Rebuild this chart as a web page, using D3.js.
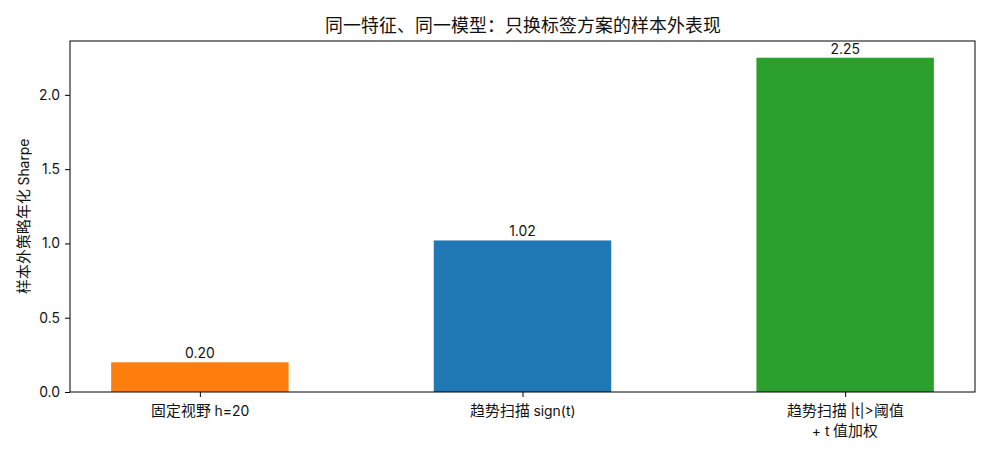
<!DOCTYPE html>
<html>
<head>
<meta charset="utf-8">
<script src="https://cdn.jsdelivr.net/npm/d3@7"></script>
<style>
  @font-face {
    font-family: "CJKWide";
    src: local("Noto Sans CJK SC Regular"), local("NotoSansCJKsc-Regular"), local("Noto Sans CJK SC");
    size-adjust: 107%;
  }
  body { margin: 0; background: #fff; }
  text { font-family: Inter, "CJKWide", "Noto Sans CJK SC", sans-serif; fill: #111; }
</style>
</head>
<body>
<div id="chart"></div>
<script>
// data
var categories = ["固定视野 h=20", "趋势扫描 sign(t)", "趋势扫描 |t|>阈值\n+ t 值加权"];
var sharpe = [0.20, 1.02, 2.25];
var barColors = ["#ff7f0e", "#1f77b4", "#2ca02c"];
var yTicks = [0.0, 0.5, 1.0, 1.5, 2.0];

var W = 990, H = 462;
var m = { left: 70, right: 15, top: 41, bottom: 70 };
var fs = "13.9px";

var svg = d3.select("#chart").append("svg")
    .attr("width", W)
    .attr("height", H);

var barW = 0.55;
var x = d3.scaleLinear()
    .domain([-barW / 2 - 0.1275, categories.length - 1 + barW / 2 + 0.1275])
    .range([m.left, W - m.right]);
var y = d3.scaleLinear()
    .domain([0, 2.25 * 1.05])
    .range([H - m.bottom, m.top]);

// bars
svg.selectAll("rect.bar")
    .data(sharpe)
    .enter()
    .append("rect")
    .attr("class", "bar")
    .attr("x", function (d, i) { return x(i - barW / 2); })
    .attr("y", function (d) { return y(d); })
    .attr("width", function (d, i) { return x(i + barW / 2) - x(i - barW / 2); })
    .attr("height", function (d) { return y(0) - y(d); })
    .attr("fill", function (d, i) { return barColors[i]; });

// value labels
svg.selectAll("text.val")
    .data(sharpe)
    .enter()
    .append("text")
    .attr("class", "val")
    .attr("x", function (d, i) { return x(i); })
    .attr("y", function (d) { return y(d) - 4; })
    .attr("text-anchor", "middle")
    .style("font-size", fs)
    .text(function (d) { return d.toFixed(2); });

// y axis
var yAxis = svg.append("g")
    .attr("transform", "translate(" + m.left + ",0)")
    .call(d3.axisLeft(y).tickValues(yTicks).tickFormat(d3.format(".1f")).tickSize(5).tickPadding(5));
yAxis.select(".domain").remove();
yAxis.selectAll("text").style("font-size", fs).style("font-family", null);
yAxis.selectAll("line").attr("stroke", "#000");
yAxis.attr("font-family", null).attr("font-size", null);

// x axis
var xAxis = svg.append("g")
    .attr("transform", "translate(0," + (H - m.bottom) + ")")
    .call(d3.axisBottom(x).tickValues(d3.range(categories.length)).tickFormat("").tickSize(5));
xAxis.select(".domain").remove();
xAxis.selectAll("line").attr("stroke", "#000");

svg.selectAll("text.cat")
    .data(categories)
    .enter()
    .append("text")
    .attr("class", "cat")
    .attr("text-anchor", "middle")
    .style("font-size", fs)
    .attr("transform", function (d, i) { return "translate(" + x(i) + "," + (H - m.bottom + 24) + ")"; })
    .each(function (d) {
        var t = d3.select(this);
        d.split("\n").forEach(function (line, k) {
            t.append("tspan").attr("x", 0).attr("dy", k === 0 ? 0 : 20).text(line);
        });
    });

// frame
svg.append("rect")
    .attr("x", m.left)
    .attr("y", m.top)
    .attr("width", W - m.right - m.left)
    .attr("height", H - m.bottom - m.top)
    .attr("fill", "none")
    .attr("stroke", "#000")
    .attr("stroke-width", 1);

// title
svg.append("text")
    .attr("x", (m.left + W - m.right) / 2)
    .attr("y", 32)
    .attr("text-anchor", "middle")
    .style("font-size", "16.7px")
    .text("同一特征、同一模型：只换标签方案的样本外表现");

// y label
svg.append("text")
    .attr("transform", "translate(29," + ((m.top + H - m.bottom) / 2) + ") rotate(-90)")
    .attr("text-anchor", "middle")
    .style("font-size", fs)
    .text("样本外策略年化 Sharpe");
</script>
</body>
</html>
